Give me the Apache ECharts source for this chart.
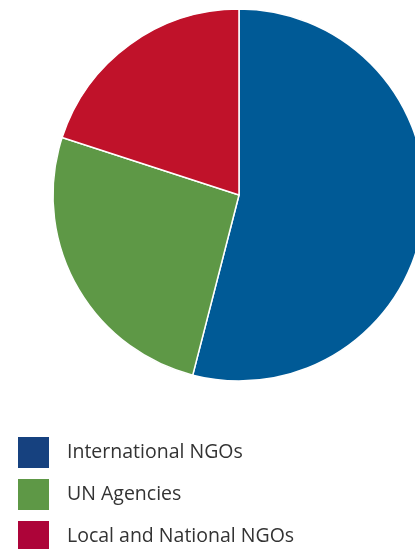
<!DOCTYPE html>
<html>
<head>
<meta charset="utf-8">
<script src="https://cdn.jsdelivr.net/npm/echarts@6/dist/echarts.min.js"></script>
<style>
  html, body { margin: 0; padding: 0; background: #fff; }
  #container { width: 415px; height: 549px; }
</style>
</head>
<body>
<div id="container"></div>
<script>
/* data */
var categories = ['International NGOs', 'UN Agencies', 'Local and National NGOs'];
var shares = [54, 26, 20];
var sliceColors = ['#005a96', '#5e9846', '#c0122a'];
var legendColors = ['#16417f', '#5e9846', '#ad0439'];

var dom = document.getElementById('container');
var myChart = echarts.init(dom);

var pieData = categories.map(function (name, i) {
    return { name: name, value: shares[i], itemStyle: { color: sliceColors[i] } };
});

var option = {
    animation: false,
    legend: {
        orient: 'vertical',
        left: 16,
        top: 435,
        height: 160,
        padding: 0,
        itemWidth: 33,
        itemHeight: 33,
        itemGap: 7,
        icon: 'rect',
        selectedMode: false,
        data: categories.map(function (name, i) {
            return { name: name, itemStyle: { color: legendColors[i] } };
        }),
        textStyle: {
            fontFamily: 'Open Sans',
            fontSize: 19.5,
            color: '#333',
            padding: [6, 0, 0, 12]
        }
    },
    series: [
        {
            type: 'pie',
            center: [239, 195],
            radius: 186,
            startAngle: 90,
            clockwise: true,
            label: { show: false },
            labelLine: { show: false },
            emphasis: { disabled: true },
            itemStyle: {
                borderColor: '#fff',
                borderWidth: 1.5
            },
            data: pieData
        }
    ]
};

myChart.setOption(option);
</script>
</body>
</html>
